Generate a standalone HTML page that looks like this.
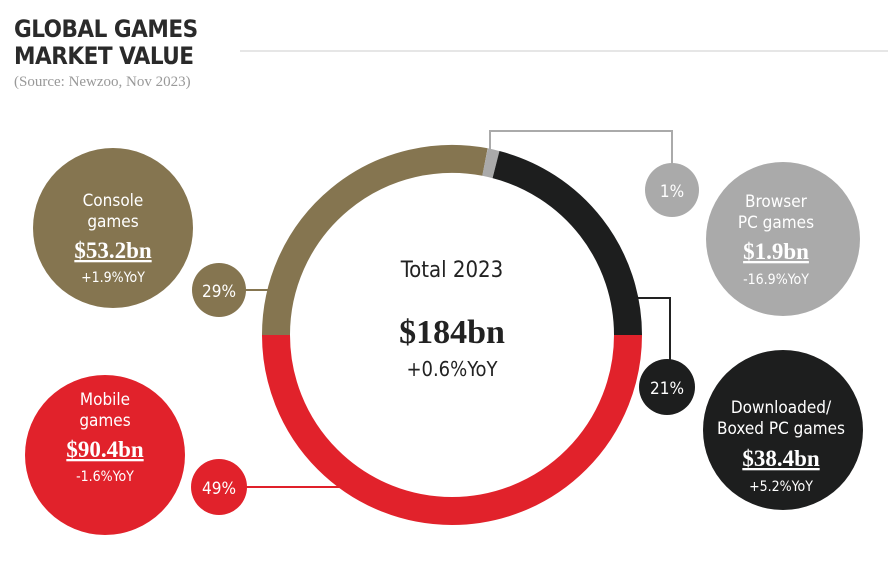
<!DOCTYPE html>
<html><head><meta charset="utf-8"><style>
body{margin:0;background:#fff;width:895px;height:566px;overflow:hidden}
text{font-family:"DejaVu Sans Condensed","Liberation Sans",sans-serif}
.s{font-family:"Liberation Serif",serif;font-weight:bold}
</style></head><body>
<svg width="895" height="566" viewBox="0 0 895 566">
<text x="14" y="37" font-size="24" font-weight="bold" fill="#2a2a2a" letter-spacing="-0.5">GLOBAL GAMES</text>
<text x="14" y="64" font-size="24" font-weight="bold" fill="#2a2a2a" letter-spacing="-0.5">MARKET VALUE</text>
<text x="14" y="86" font-size="15" fill="#999" style="font-family:'Liberation Serif',serif">(Source: Newzoo, Nov 2023)</text>
<line x1="240" y1="51" x2="888" y2="51" stroke="#ddd" stroke-width="1.5"/>
<g fill="none" stroke-width="2">
<polyline points="490,150 490,131 672,131 672,165" stroke="#aaa"/>
<polyline points="630,298 670,298 670,362" stroke="#222"/>
<line x1="240" y1="290" x2="270" y2="290" stroke="#857550"/>
<line x1="240" y1="487" x2="345" y2="487" stroke="#e0202a"/>
</g>
<g fill="none" stroke-width="28">
<path d="M628,335 A176,176 0 0 1 276,335" stroke="#e1222b"/>
<path d="M276,335 A176,176 0 0 1 485,162" stroke="#857550"/>
<path d="M485,162 A176,176 0 0 1 496,164.6" stroke="#aaa"/>
<path d="M496,164.6 A176,176 0 0 1 628,335" stroke="#1d1e1e"/>
</g>
<text x="452" y="277" font-size="22" text-anchor="middle" fill="#222">Total 2023</text>
<text x="452" y="343" font-size="34" text-anchor="middle" class="s" fill="#222">$184bn</text>
<text x="452" y="376" font-size="20" text-anchor="middle" fill="#222">+0.6%YoY</text>
<circle cx="113" cy="228" r="80" fill="#857550"/>
<circle cx="105" cy="455" r="80" fill="#e1222b"/>
<circle cx="783" cy="239" r="77" fill="#aaa"/>
<circle cx="783" cy="430" r="80" fill="#1d1e1e"/>
<circle cx="219" cy="290" r="27" fill="#857550"/>
<circle cx="219" cy="487" r="28" fill="#e1222b"/>
<circle cx="672" cy="190" r="27" fill="#aaa"/>
<circle cx="667" cy="387" r="28" fill="#1d1e1e"/>
<g fill="#fff" text-anchor="middle">
<text x="219" y="297" font-size="17">29%</text>
<text x="219" y="494" font-size="17">49%</text>
<text x="672" y="197" font-size="17">1%</text>
<text x="667" y="394" font-size="17">21%</text>
<text x="113" y="206" font-size="17">Console</text>
<text x="113" y="227" font-size="17">games</text>
<text x="113" y="258" font-size="23" class="s" text-decoration="underline">$53.2bn</text>
<text x="113" y="282" font-size="14">+1.9%YoY</text>
<text x="105" y="405" font-size="17">Mobile</text>
<text x="105" y="426" font-size="17">games</text>
<text x="105" y="457" font-size="23" class="s" text-decoration="underline">$90.4bn</text>
<text x="105" y="481" font-size="14">-1.6%YoY</text>
<text x="776" y="207" font-size="17">Browser</text>
<text x="776" y="228" font-size="17">PC games</text>
<text x="776" y="259" font-size="23" class="s" text-decoration="underline">$1.9bn</text>
<text x="776" y="284" font-size="14">-16.9%YoY</text>
<text x="781" y="413" font-size="17">Downloaded/</text>
<text x="781" y="434" font-size="17">Boxed PC games</text>
<text x="781" y="466" font-size="23" class="s" text-decoration="underline">$38.4bn</text>
<text x="781" y="491" font-size="14">+5.2%YoY</text>
</g>
</svg>
</body></html>
